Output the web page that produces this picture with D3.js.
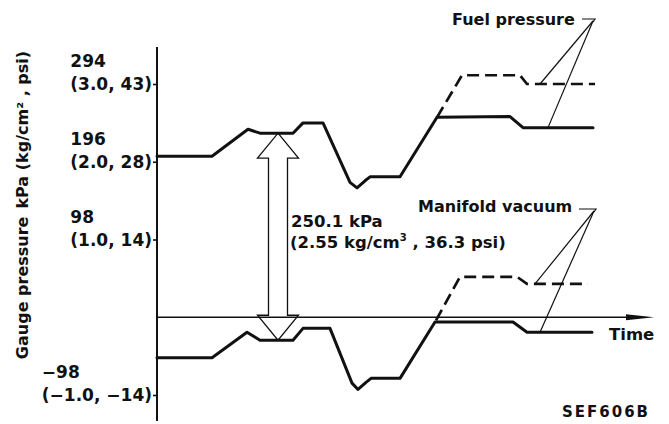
<!DOCTYPE html>
<html><head><meta charset="utf-8">
<script src="https://cdn.jsdelivr.net/npm/d3@7"></script>
<style>body{margin:0;background:#fff}svg{display:block}</style>
</head><body><svg id="c" width="669" height="424"></svg>
<script>
// ---- data (time in arbitrary units, pressure in kPa) ----
const fuelTime  = [0, 11, 18.2, 20.6, 27.2, 29.2, 33.2, 38.6, 40, 41.6, 42.6, 48.6, 56, 70.6, 73.2, 87.2];
const fuelKpa   = [203, 203, 237, 232, 232, 245, 245, 170, 163, 172, 177, 177, 252, 253, 239, 239];
const fuelDashTime = [56, 61, 72.6, 74, 87.6];
const fuelDashKpa  = [252, 305, 305, 294, 294];
const vacTime   = [0, 11, 18, 20.6, 27.2, 29.2, 34.6, 39, 40.2, 41.8, 42.8, 48.6, 55.6, 71.2, 74, 87];
const vacKpa    = [-51, -51, -19, -29, -29, -14, -14, -83, -91, -82, -77, -77, -6, -6, -19, -19];
const vacDashTime = [55.8, 60.6, 72, 74, 86.2];
const vacDashKpa  = [-4, 51, 51, 42, 42];
const tickValues = [294, 196, 98, -98];
const tickMain   = ["294", "196", "98", "\u221298"];
const tickSub    = ["(3.0, 43)", "(2.0, 28)", "(1.0, 14)", "(\u22121.0, \u221214)"];
const arrowTime = 24.2;           // where the 250.1 kPa difference arrow sits
const arrowTop = 232, arrowBottom = -29;
const fuelLeaderTargets = [[76.6, 294], [78.2, 239]];
const vacLeaderTargets  = [[75.6, 42], [76.6, -19]];

const FONT = "'DejaVu Sans', sans-serif";
const INK = "#111";
const svg = d3.select("#c");

const x = d3.scaleLinear().domain([0, 100]).range([157, 657]);
const y = d3.scaleLinear().domain([-98, 294]).range([395, 84]);

// y axis line
svg.append("line").attr("x1", x(0)).attr("x2", x(0)).attr("y1", 47).attr("y2", 421)
  .attr("stroke", INK).attr("stroke-width", 2);

// y ticks via d3 axis
const yAxis = svg.append("g").attr("transform", `translate(${x(0)},0)`)
  .call(d3.axisLeft(y).tickValues(tickValues).tickSize(4).tickFormat(""));
yAxis.select(".domain").remove();
yAxis.selectAll(".tick line").attr("stroke", INK).attr("stroke-width", 1.6);

// tick labels (two lines)
tickValues.forEach((v, i) => {
  const ty = y(v);
  const sub = svg.append("text").attr("x", 152).attr("y", ty + 6)
    .attr("text-anchor", "end").attr("font-family", FONT).attr("font-weight", "bold")
    .attr("font-size", 17).attr("fill", INK).text(tickSub[i]);
  const bb = sub.node().getBBox();
  svg.append("text").attr("x", bb.x).attr("y", ty - 17)
    .attr("font-family", FONT).attr("font-weight", "bold")
    .attr("font-size", 17).attr("fill", INK).text(tickMain[i]);
});

// y title
svg.append("text").attr("transform", "translate(28,205) rotate(-90)")
  .attr("text-anchor", "middle").attr("font-family", FONT).attr("font-weight", "bold")
  .attr("font-size", 16).attr("fill", INK)
  .text("Gauge pressure\u2002kPa (kg/cm\u00b2 , psi)");

// difference arrow (hollow, double headed)
const ax = x(arrowTime), yt = y(arrowTop), yb = y(arrowBottom);
const hw = 20.5, sw = 9.5, hl = 25;
const arrowPts = [
  [ax, yt], [ax + hw, yt + hl], [ax + sw, yt + hl], [ax + sw, yb - hl], [ax + hw, yb - hl],
  [ax, yb], [ax - hw, yb - hl], [ax - sw, yb - hl], [ax - sw, yt + hl], [ax - hw, yt + hl]
];
svg.append("path").attr("d", d3.line()(arrowPts) + "Z")
  .attr("fill", "#fff").attr("stroke", INK).attr("stroke-width", 1.3).attr("stroke-linejoin", "miter");

// time axis with arrow head
svg.append("line").attr("x1", x(0)).attr("x2", 640).attr("y1", y(0)).attr("y2", y(0))
  .attr("stroke", INK).attr("stroke-width", 1.5);
svg.append("path").attr("d", `M${626},${y(0) - 3}L${654},${y(0)}L${626},${y(0) + 3}Z`)
  .attr("fill", INK);

const line = d3.line().x(d => x(d[0])).y(d => y(d[1]));
const zip = (a, b) => a.map((t, i) => [t, b[i]]);

function series(t, v, dashed) {
  svg.append("path").attr("d", line(zip(t, v))).attr("fill", "none")
    .attr("stroke", INK).attr("stroke-width", dashed ? 2.7 : 3)
    .attr("stroke-linejoin", "round").attr("stroke-linecap", dashed ? "butt" : "round")
    .attr("stroke-dasharray", dashed ? "12,6" : null);
}
series(fuelTime, fuelKpa, false);
series(fuelDashTime, fuelDashKpa, true);
series(vacTime, vacKpa, false);
series(vacDashTime, vacDashKpa, true);

// labels
function label(txt, tx, ty, size, extra) {
  const t = svg.append("text").attr("x", tx).attr("y", ty).attr("font-family", FONT)
    .attr("font-weight", "bold").attr("font-size", size).attr("fill", INK).text(txt);
  if (extra) extra(t);
  return t;
}
label("250.1 kPa", 291, 227, 16.5);
const l2 = label("(2.55 kg/cm", 290, 248, 16.5);
l2.append("tspan").attr("font-size", 10).attr("dy", -7).text("3");
l2.append("tspan").attr("dy", 7).text(" , 36.3 psi)");

label("Fuel pressure", 452, 25, 16);
label("Manifold vacuum", 418, 212, 16);
label("Time", 609, 340, 16.5);
label("SEF606B", 562, 417, 15, t => t.attr("letter-spacing", 2));

// leaders
function leader(hookX1, hookX2, hookY, targets) {
  svg.append("path").attr("d", `M${hookX1},${hookY}L${hookX2},${hookY}L${hookX2 - 2},${hookY + 3}`)
    .attr("fill", "none").attr("stroke", INK).attr("stroke-width", 1.2);
  targets.forEach(p => {
    svg.append("line").attr("x1", hookX2 - 2).attr("y1", hookY + 2)
      .attr("x2", x(p[0])).attr("y2", y(p[1])).attr("stroke", INK).attr("stroke-width", 1.2);
  });
}
leader(582, 595, 19, fuelLeaderTargets);
leader(579, 596, 209, vacLeaderTargets);
</script></body></html>
